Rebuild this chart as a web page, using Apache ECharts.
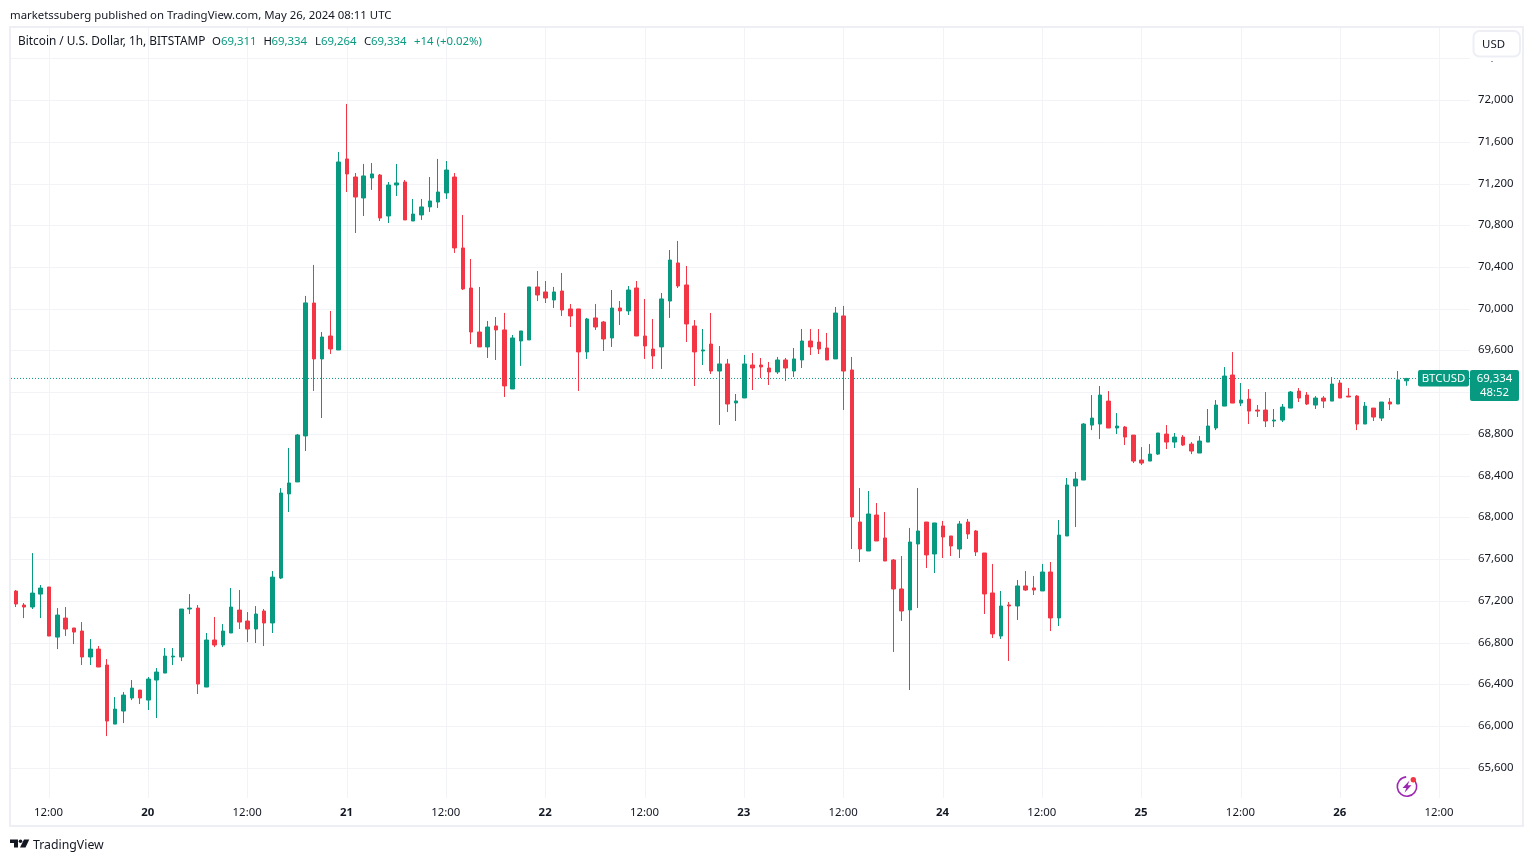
<!DOCTYPE html>
<html>
<head>
<meta charset="utf-8">
<style>html,body{margin:0;padding:0;background:#fff}#c{width:1534px;height:862px}</style>
<script src="https://cdn.jsdelivr.net/npm/echarts@6/dist/echarts.min.js"></script>
</head>
<body>
<div id="c"></div>
<script>
const opens = [67296,67162,67143,67267,67335,66855,67037,66942,66913,66664,
66740,66587,66021,66146,66271,66347,66251,66443,66510,66664,
66664,67124,67133,66376,66827,66779,66894,67114,67009,66932,
67105,66990,67421,68227,68342,68783,70057,69521,69741,69607,
71438,71265,71064,71256,71284,70891,71188,71217,70843,70901,
70978,71025,71112,71265,70585,70201,69779,69636,69837,69799,
69233,69693,69703,70211,70163,70086,70172,70000,70000,69588,
69914,69875,69722,70009,69981,70201,69741,69616,69636,70076,
70441,70230,69837,69597,69664,69405,69473,69099,69147,69463,
69463,69434,69396,69511,69405,69511,69693,69683,69626,69521,
69933,69415,67958,67680,68025,67805,67594,67316,67115,67747,
67958,67651,67920,67824,67699,67958,67872,67661,67278,66865,
67163,67153,67345,67326,67297,67479,67038,67824,68303,68360,
68887,68897,69117,68859,68868,68791,68552,68542,68609,68801,
68724,68772,68705,68619,68724,68859,69069,69367,69098,69136,
69031,69031,68926,68935,69050,69213,69175,69079,69146,69117,
69290,69165,69165,68897,69050,68954,69108,69089,69311];
const closes = [67172,67143,67277,67325,66865,67066,66932,66903,66664,66740,
66568,66050,66165,66299,66366,66271,66453,66520,66673,66673,
67124,67133,66405,66827,66779,66913,67143,66999,66932,67076,
66990,67430,68236,68332,68792,70058,69521,69731,69616,71409,
71294,71073,71275,71294,70872,71188,71208,70853,70910,70978,
71035,71121,71332,70585,70192,69779,69636,69827,69799,69262,
69722,69789,70211,70134,70105,70163,69990,69933,69588,69904,
69827,69712,70009,69981,70182,69741,69645,69549,70096,70469,
70220,69856,69588,69607,69405,69473,69089,69118,69473,69434,
69444,69396,69511,69434,69521,69693,69636,69616,69511,69961,
69405,68006,67699,68035,67776,67584,67316,67105,67766,67872,
67642,67949,67814,67728,67939,67843,67671,67268,66885,67153,
67153,67345,67306,67306,67479,67038,67833,68313,68370,68897,
68954,69175,68859,68878,68772,68542,68523,68609,68811,68724,
68772,68696,68638,68734,68878,69079,69357,69098,69127,69021,
69021,68926,68935,69060,69204,69146,69089,69146,69117,69280,
69146,69156,68897,69069,68964,69108,69089,69320,69334];
const highs = [67306,67181,67660,67354,67335,67133,67143,66942,66999,66836,
66769,66644,66280,66328,66443,66347,66472,66558,66750,66750,
67124,67267,67162,66894,67047,66980,67325,67306,67095,67152,
67124,67488,68283,68668,68802,70125,70422,69779,69981,71505,
71965,71303,71390,71399,71294,71217,71390,71236,71054,71054,
71265,71438,71418,71303,70901,70479,70211,69885,69923,69962,
69751,69789,70211,70364,70268,70211,70345,70048,70000,69914,
70048,69885,70182,70076,70220,70268,70096,69904,70153,70565,
70652,70412,69894,69808,69961,69645,69521,69185,69559,69578,
69530,69492,69540,69530,69626,69808,69808,69808,69770,70019,
70029,69540,68284,68255,68140,68054,67603,67632,67901,68284,
67958,67949,67968,67824,67968,67987,67881,67661,67556,67297,
67191,67402,67488,67441,67556,67575,67977,68380,68437,68906,
69175,69261,69213,69002,68878,68791,68676,68705,68811,68887,
68811,68791,68724,68782,69041,69127,69443,69587,69290,69232,
69079,69204,69041,69089,69213,69242,69204,69165,69165,69347,
69319,69242,69175,69108,69050,69108,69146,69405,69334];
const lows = [67143,67037,67124,67037,66865,66740,66865,66788,66587,66587,
66568,65906,66021,66031,66251,66213,66156,66079,66510,66587,
66625,67076,66309,66376,66759,66759,66894,66932,66807,66798,
66769,66894,67411,68054,68342,68639,69214,68955,69569,69607,
71121,70728,70891,71141,70843,70824,71083,70853,70843,70853,
70930,70968,71054,70537,70182,69664,69636,69530,69511,69156,
69233,69454,69703,70076,70057,70009,69933,69827,69214,69521,
69799,69597,69636,69846,69942,69741,69521,69425,69425,69914,
70201,69683,69262,69463,69377,68888,69012,68926,69147,69223,
69338,69271,69377,69310,69348,69434,69559,69568,69511,69521,
69032,67699,67575,67680,67776,67584,66712,67009,66348,67134,
67517,67469,67613,67632,67613,67795,67632,67076,66846,66837,
66626,67019,67297,67258,67297,66913,66961,67824,67910,68360,
68839,68753,68859,68801,68696,68523,68504,68542,68600,68657,
68667,68686,68609,68619,68724,68839,69069,69098,69069,68897,
68964,68868,68868,68916,69050,69108,69079,69041,69050,69117,
69146,69156,68839,68897,68926,68926,69031,69089,69264];
const tickLabels = ['12:00','20','12:00','21','12:00','22','12:00','23','12:00','24','12:00','25','12:00','26','12:00'];
const priceTicksMin = 65200, priceTicksMax = 72800, priceStep = 400;
const lastPrice = 69334;
const FONT = '"Noto Sans", sans-serif';
const FS = 11.4;
const TEXT = '#131722', UP = '#089981', DOWN = '#F23645', GRID = '#f2f3f6', FRAME = '#eeeff5';

const slotCount = 176, firstTick = 4, tickEvery = 12;
const categories = [];
for (let i = 0; i < slotCount; i++) {
  const k = (i - firstTick) / tickEvery;
  categories.push(Number.isInteger(k) && k >= 0 ? tickLabels[k] : '');
}
const isTick = i => i >= firstTick && (i - firstTick) % tickEvery === 0;
const candles = opens.map((o, i) => [o, closes[i], lows[i], highs[i]]);

const chart = echarts.init(document.getElementById('c'), null, {renderer: 'canvas'});
const plotTop = 16.84, plotH = 792.9;
const candleLeft = 15.9, candleW = 1448.5;

function txt(x, y, s, fill, size, extra) {
  return {type: 'text', x, y: y + 1, z: 30, silent: true,
    style: Object.assign({text: s, fill: fill, font: (size || FS) + 'px ' + FONT, textVerticalAlign: 'middle', verticalAlign: 'middle'}, extra || {})};
}

chart.setOption({
  animation: false,
  backgroundColor: '#fff',
  grid: [
    {left: 11, width: 1459, top: plotTop, height: plotH},
    {left: candleLeft, width: candleW, top: plotTop, height: plotH},
    {left: candleLeft, width: candleW, top: 28, height: 770}
  ],
  xAxis: [
    {gridIndex: 0, type: 'value', min: 0, max: 1, show: false},
    {gridIndex: 1, type: 'category', data: categories, boundaryGap: false, show: false},
    {gridIndex: 2, type: 'category', data: categories, boundaryGap: false,
      axisLine: {show: false}, axisTick: {show: false},
      splitLine: {show: true, interval: isTick, lineStyle: {color: GRID, width: 1}},
      axisLabel: {interval: isTick, color: TEXT, fontFamily: FONT, fontSize: FS, margin: 9, hideOverlap: false,
        padding: [0, 1, 0, 0],
        formatter: v => /:/.test(v) ? v : '{d|' + v + '}',
        rich: {d: {fontWeight: 'bold', fontFamily: FONT, fontSize: FS, color: TEXT}}}}
  ],
  yAxis: [
    {gridIndex: 0, type: 'value', position: 'right', min: priceTicksMin, max: priceTicksMax, interval: priceStep,
      axisLine: {show: false}, axisTick: {show: false},
      splitLine: {show: true, showMinLine: false, showMaxLine: false, lineStyle: {color: GRID, width: 1}},
      axisLabel: {color: TEXT, fontFamily: FONT, fontSize: FS, margin: 8, verticalAlign: 'bottom', lineHeight: 1,
        showMinLabel: false, showMaxLabel: false,
        formatter: v => String(v).replace(/(\d)(\d{3})$/, '$1,$2')}},
    {gridIndex: 1, type: 'value', min: priceTicksMin, max: priceTicksMax, interval: priceStep, show: false, splitLine: {show: false}},
    {gridIndex: 2, type: 'value', min: 0, max: 1, show: false, splitLine: {show: false}}
  ],
  series: [
    {type: 'line', xAxisIndex: 0, yAxisIndex: 0, z: 1, silent: true, symbol: 'none',
      data: [[0, lastPrice], [1, lastPrice]],
      lineStyle: {color: UP, width: 1, type: [1, 2]}},
    {type: 'candlestick', xAxisIndex: 1, yAxisIndex: 1, z: 3, clip: false, silent: true,
      barWidth: 4, data: candles,
      itemStyle: {color: UP, color0: DOWN, borderColor: UP, borderColor0: DOWN, borderWidth: 1}}
  ]
});

const py = Math.round(chart.convertToPixel({yAxisIndex: 0}, lastPrice));
const g = [
  {type: 'rect', z: 28, silent: true, shape: {x: 1471, y: 28, width: 51, height: 33}, style: {fill: '#fff'}},
  {type: 'rect', z: 29, silent: true, shape: {x: 1473.5, y: 31, width: 46.5, height: 25.5, r: 6}, style: {fill: '#fff', stroke: FRAME, lineWidth: 2}},
  txt(1493.5, 44, 'USD', TEXT, FS, {textAlign: 'center', align: 'center'}),
  {type: 'rect', z: 2, silent: true, shape: {x: 10, y: 27, width: 1513, height: 799}, style: {fill: 'none', stroke: FRAME, lineWidth: 2}},
  txt(10, 14.5, 'marketssuberg published on TradingView.com, May 26, 2024 08:11 UTC', TEXT, FS),
  txt(18, 41, 'Bitcoin / U.S. Dollar, 1h, BITSTAMP', TEXT, 11.85),
  txt(212, 41, 'O', TEXT, FS), txt(221, 41, '69,311', UP, FS),
  txt(263.5, 41, 'H', TEXT, FS), txt(271.5, 41, '69,334', UP, FS),
  txt(315, 41, 'L', TEXT, FS), txt(321, 41, '69,264', UP, FS),
  txt(364, 41, 'C', TEXT, FS), txt(371, 41, '69,334', UP, FS),
  txt(414, 41, '+14 (+0.02%)', UP, FS),
  {type: 'rect', z: 29, silent: true, shape: {x: 1418, y: py - 8, width: 51, height: 16.5, r: 2}, style: {fill: UP}},
  txt(1443.5, py - 0.5, 'BTCUSD', '#fff', FS, {textAlign: 'center', align: 'center'}),
  {type: 'rect', z: 29, silent: true, shape: {x: 1470, y: py - 8, width: 49, height: 31, r: 2}, style: {fill: UP}},
  txt(1494.5, py - 0.5, '69,334', '#fff', FS, {textAlign: 'center', align: 'center'}),
  txt(1494.5, py + 13.5, '48:52', '#fff', FS, {textAlign: 'center', align: 'center'}),
  {type: 'arc', z: 29, silent: true, shape: {cx: 1407, cy: 786.5, r: 9.7, startAngle: -0.9, endAngle: 4.63, clockwise: true}, style: {fill: 'none', stroke: '#9C27B0', lineWidth: 1.6}},
  {type: 'polygon', z: 29, silent: true, shape: {points: [[1409.5, 780.5], [1402.5, 788], [1406.3, 788], [1404.5, 792.8], [1411.5, 785.2], [1407.7, 785.2]]}, style: {fill: '#9C27B0'}},
  {type: 'circle', z: 30, silent: true, shape: {cx: 1413.3, cy: 779.7, r: 2.7}, style: {fill: DOWN}},
  {type: 'polygon', z: 29, silent: true, shape: {points: [[10, 839.5], [18, 839.5], [18, 847.5], [14, 847.5], [14, 843], [10, 843]]}, style: {fill: TEXT}},
  {type: 'circle', z: 29, silent: true, shape: {cx: 20.5, cy: 841.2, r: 1.8}, style: {fill: TEXT}},
  {type: 'polygon', z: 29, silent: true, shape: {points: [[24, 839.5], [29.3, 839.5], [25.5, 847.5], [20, 847.5]]}, style: {fill: TEXT}},
  txt(33, 844, 'TradingView', TEXT, 12.3)
];
chart.setOption({graphic: g});
</script>
</body>
</html>
